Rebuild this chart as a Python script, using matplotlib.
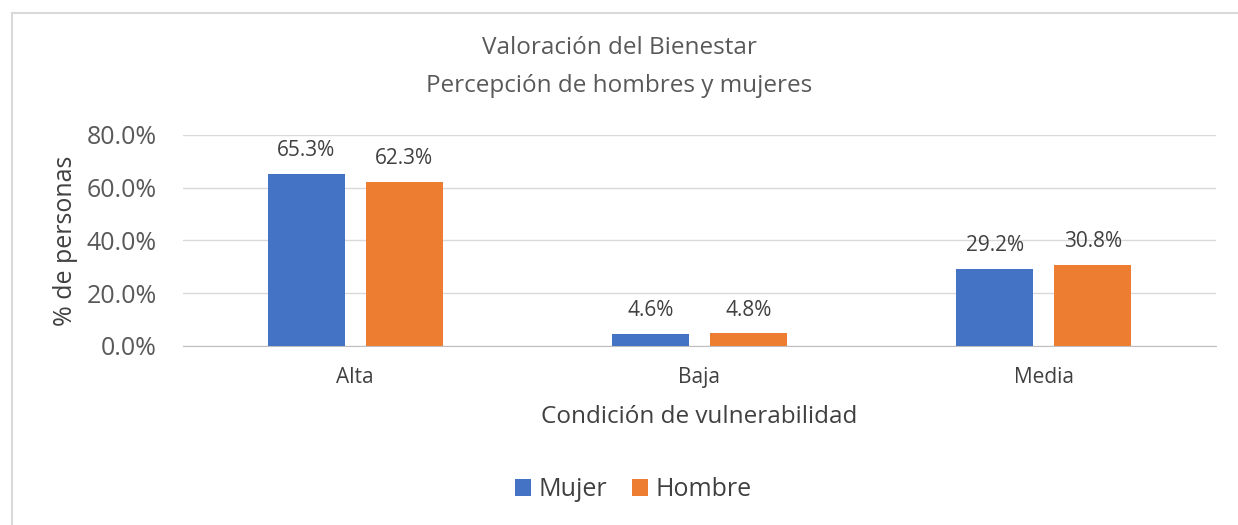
import numpy as np
import matplotlib
matplotlib.use('Agg')
from matplotlib import pyplot as plt
from matplotlib.lines import Line2D

plt.rcParams['font.family'] = ['Open Sans', 'DejaVu Sans']

categorias = ['Alta', 'Baja', 'Media']
mujer = [65.3, 4.6, 29.2]
hombre = [62.3, 4.8, 30.8]
series = ['Mujer', 'Hombre']
colores = ['#4472C4', '#ED7D31']
yticks = [0, 20, 40, 60, 80]

W, H = 1238, 525
fig = plt.figure(figsize=(W / 100, H / 100), dpi=100)
# borde del grafico (recortado a la derecha y abajo)
fig.lines.append(Line2D([11.5 / W, 1], [1 - 12.5 / H, 1 - 12.5 / H], transform=fig.transFigure,
                        color='#D9D9D9', linewidth=1.5))
fig.lines.append(Line2D([11.5 / W, 11.5 / W], [0, 1 - 12.5 / H], transform=fig.transFigure,
                        color='#D9D9D9', linewidth=1.5))
ax = fig.add_axes([0.1478, 0.341, 0.8344, 0.402])

x = np.arange(len(categorias))
w = 0.2235
gap = 0.061
b1 = ax.bar(x - (w + gap) / 2, mujer, w, color=colores[0], label=series[0], zorder=3)
b2 = ax.bar(x + (w + gap) / 2, hombre, w, color=colores[1], label=series[1], zorder=3)
for bars, vals in ((b1, mujer), (b2, hombre)):
    for b, v in zip(bars, vals):
        ax.annotate('%.1f%%' % v, (b.get_x() + b.get_width() / 2, v),
                    xytext=(0, 9), textcoords='offset points',
                    ha='center', va='bottom', fontsize=15, color='#404040')

ax.set_xlim(-0.5, 2.5)
ax.set_ylim(0, 80)
ax.set_yticks(yticks)
ax.set_yticklabels(['%.1f%%' % t for t in yticks], fontsize=18, color='#595959')
ax.set_xticks(x)
ax.set_xticklabels(categorias, fontsize=15, color='#404040')
ax.tick_params(axis='both', length=0)
ax.tick_params(axis='y', pad=19)
ax.tick_params(axis='x', pad=15)
ax.grid(axis='y', color='#D9D9D9', linewidth=1, zorder=0)
for s in ('top', 'right', 'left'):
    ax.spines[s].set_visible(False)
ax.spines['bottom'].set_color('#BFBFBF')

ax.set_ylabel('% de personas', fontsize=18, color='#404040', va='center')
ax.yaxis.set_label_coords(-0.114, 0.5)
ax.set_xlabel('Condición de vulnerabilidad', fontsize=17.5, color='#404040', va='center')
ax.xaxis.set_label_coords(0.5, -0.336)
fig.text(0.5, 1 - 48 / H, 'Valoración del Bienestar', ha='center', va='center',
         fontsize=17.5, color='#595959')
fig.text(0.5, 1 - 86 / H, 'Percepción de hombres y mujeres', ha='center', va='center',
         fontsize=17.5, color='#595959')

fig.legend(loc='center', bbox_to_anchor=(633 / W, 1 - 490 / H), ncol=2, frameon=False,
           fontsize=18, handlelength=0.64, handleheight=0.64, columnspacing=1.0,
           handletextpad=0.3, labelcolor='#404040')

fig.savefig('out.png', dpi=100)
